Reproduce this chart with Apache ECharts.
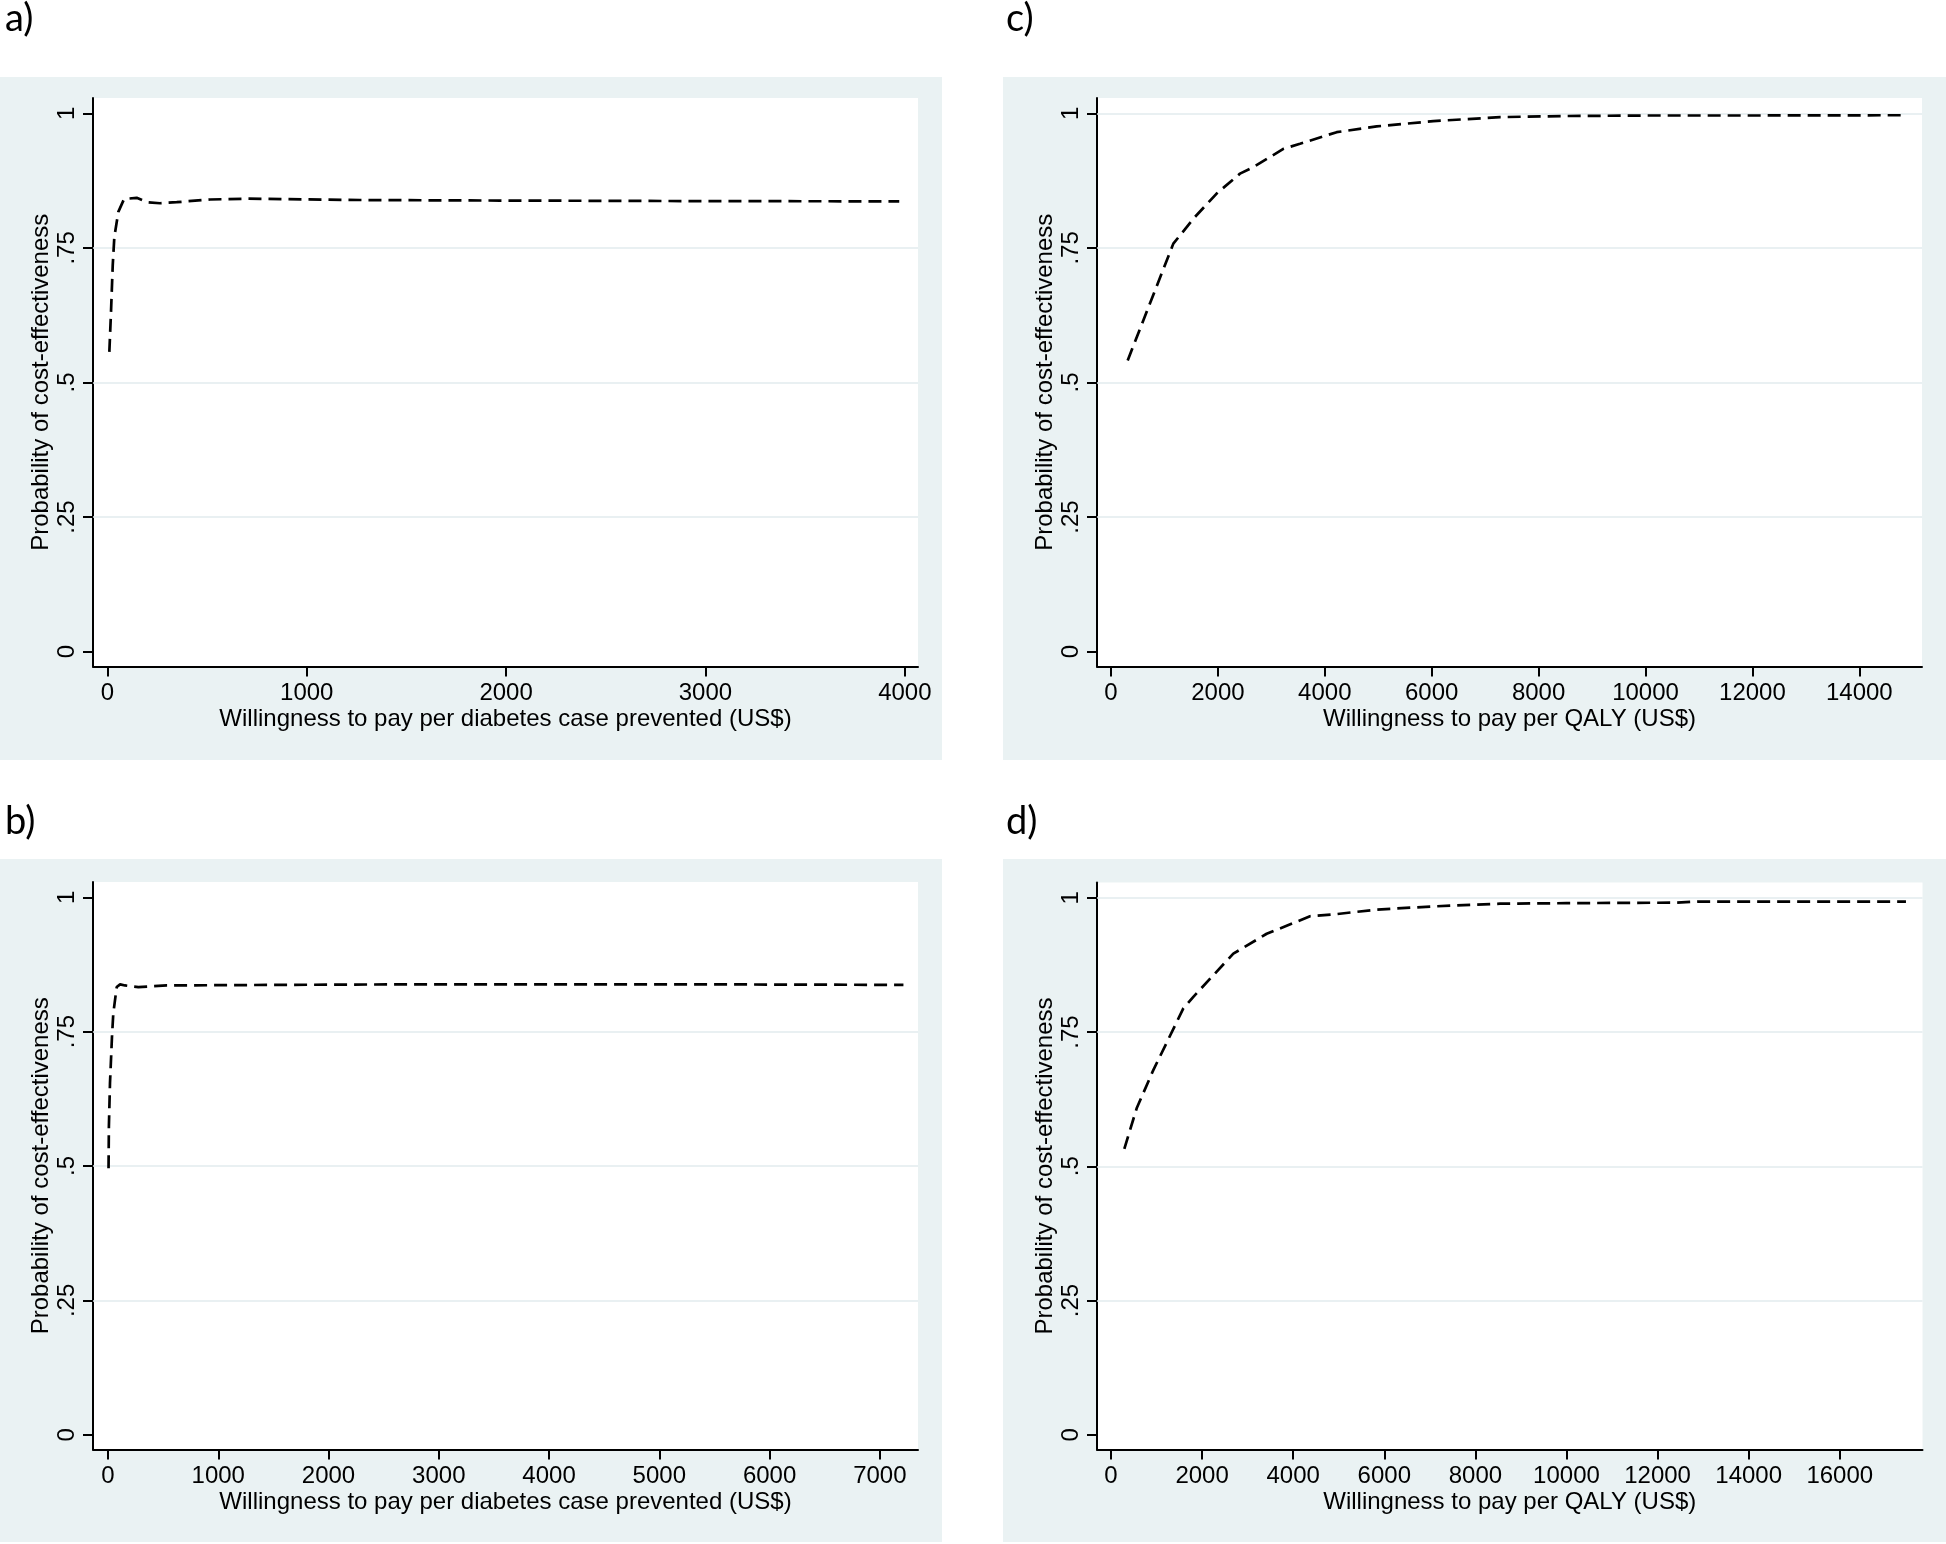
<!DOCTYPE html>
<html>
<head>
<meta charset="utf-8">
<script src="https://cdn.jsdelivr.net/npm/echarts@6/dist/echarts.min.js"></script>
<style>
html,body{margin:0;padding:0;background:#ffffff;}
#chart{width:1946px;height:1544px;}
</style>
</head>
<body>
<div id="chart"></div>
<script>
// ---- tick values / labels ----
const yTicks = [0, 0.25, 0.5, 0.75, 1];
const yTickLabels = ['0', '.25', '.5', '.75', '1'];
const aTicks = [0, 1000, 2000, 3000, 4000];
const bTicks = [0, 1000, 2000, 3000, 4000, 5000, 6000, 7000];
const cTicks = [0, 2000, 4000, 6000, 8000, 10000, 12000, 14000];
const dTicks = [0, 2000, 4000, 6000, 8000, 10000, 12000, 14000, 16000];
const gridAB = [0.25, 0.5, 0.75];
const gridCD = [0.25, 0.5, 0.75, 1];

// ---- texts ----
const panelLabels = ['a)', 'c)', 'b)', 'd)'];
const yTitle = 'Probability of cost-effectiveness';
const xTitleCase = 'Willingness to pay per diabetes case prevented (US$)';
const xTitleQaly = 'Willingness to pay per QALY (US$)';

// ---- series values ----
const aX = [10, 18, 27, 35, 55, 84, 147, 200, 264, 348, 515, 699, 1267, 1970, 3000, 3972];
const aY = [0.557, 0.628, 0.718, 0.770, 0.817, 0.841, 0.843, 0.835, 0.833, 0.835, 0.840, 0.8415, 0.839, 0.838, 0.837, 0.8365];

const bX = [5, 8, 18, 36, 48, 79, 110, 154, 275, 532, 1500, 2648, 4000, 5500, 7214];
const bY = [0.496, 0.573, 0.654, 0.740, 0.784, 0.833, 0.838, 0.836, 0.833, 0.836, 0.837, 0.838, 0.838, 0.838, 0.837];

const cX = [312, 1166, 1566, 1976, 2413, 2662, 3224, 3536, 4222, 4970, 6030, 7278, 8500, 10000, 12000, 14855];
const cY = [0.541, 0.758, 0.807, 0.851, 0.888, 0.900, 0.934, 0.9435, 0.965, 0.9757, 0.9855, 0.993, 0.995, 0.996, 0.996, 0.9965];

const dX = [293, 564, 929, 1588, 1808, 2686, 3418, 4369, 4881, 5832, 7077, 8540, 10000, 12400, 12900, 17453];
const dY = [0.5325, 0.608, 0.679, 0.794, 0.8156, 0.896, 0.933, 0.9656, 0.969, 0.978, 0.984, 0.989, 0.990, 0.991, 0.993, 0.993];

// ---- build ----
const FONT = "'Liberation Sans', Arial, Helvetica, sans-serif";
const FS = 24;
const BG = '#EAF2F3';
const GRIDLINE = '#E2EBEE';

const panels = [
  {xs: aX, ys: aY, ticks: aTicks, grid: gridAB, xmin: -72, xmax: 4066, name: xTitleCase,
   box: {left: 93, top: 98, width: 825, height: 568.5}, bg: {x: 0, y: 77, w: 942, h: 683}},
  {xs: cX, ys: cY, ticks: cTicks, grid: gridCD, xmin: -262, xmax: 15173, name: xTitleQaly,
   box: {left: 1097, top: 98, width: 825, height: 568.5}, bg: {x: 1003, y: 77, w: 943, h: 683}},
  {xs: bX, ys: bY, ticks: bTicks, grid: gridAB, xmin: -136, xmax: 7346, name: xTitleCase,
   box: {left: 93, top: 882, width: 825, height: 567.5}, bg: {x: 0, y: 859, w: 942, h: 683}},
  {xs: dX, ys: dY, ticks: dTicks, grid: gridCD, xmin: -307, xmax: 17816, name: xTitleQaly,
   box: {left: 1097, top: 882.5, width: 825.5, height: 567}, bg: {x: 1003, y: 859, w: 943, h: 683}}
];
const labelPos = [{left: 5, top: 0}, {left: 1006, top: 0}, {left: 5, top: 803}, {left: 1006, top: 803}];

const axisLineStyle = {color: '#000', width: 2};
const option = {
  animation: false,
  backgroundColor: '#ffffff',
  title: panelLabels.map((t, i) => ({
    text: t, left: labelPos[i].left, top: labelPos[i].top, padding: 0,
    textStyle: {fontFamily: "Lato, 'Open Sans', sans-serif", fontSize: 38, fontWeight: 'normal', color: '#000'}
  })),
  graphic: panels.map(p => ({
    type: 'rect', z: -100, silent: true,
    shape: {x: p.bg.x, y: p.bg.y, width: p.bg.w, height: p.bg.h},
    style: {fill: BG}
  })),
  grid: panels.map(p => ({
    left: p.box.left, top: p.box.top, width: p.box.width, height: p.box.height,
    show: true, backgroundColor: '#ffffff', borderWidth: 0, containLabel: false
  })),
  xAxis: panels.map((p, i) => ({
    type: 'value', gridIndex: i, min: p.xmin, max: p.xmax,
    name: p.name, nameLocation: 'middle', nameGap: 41,
    nameTextStyle: {fontFamily: FONT, fontSize: FS, color: '#000'},
    axisLine: {show: true, onZero: false, lineStyle: axisLineStyle},
    axisTick: {show: true, customValues: p.ticks, length: 10, lineStyle: axisLineStyle},
    axisLabel: {customValues: p.ticks, margin: 15, fontFamily: FONT, fontSize: FS, color: '#000',
      formatter: v => String(v)},
    splitLine: {show: false}
  })),
  yAxis: panels.map((p, i) => ({
    type: 'value', gridIndex: i, min: -0.0275, max: 1.0285,
    name: yTitle, nameLocation: 'middle', nameGap: 40, nameRotate: 90,
    nameTextStyle: {fontFamily: FONT, fontSize: FS, color: '#000'},
    axisLine: {show: true, onZero: false, lineStyle: axisLineStyle},
    axisTick: {show: true, customValues: yTicks, length: 10, lineStyle: axisLineStyle},
    axisLabel: {customValues: yTicks, rotate: 90, margin: 14, fontFamily: FONT, fontSize: FS, color: '#000',
      formatter: v => { const k = yTicks.indexOf(v); return k >= 0 ? yTickLabels[k] : String(v); }},
    splitLine: {show: false}
  })),
  series: panels.map((p, i) => ({
    type: 'line', xAxisIndex: i, yAxisIndex: i, z: 3,
    data: p.xs.map((x, k) => [x, p.ys[k]]),
    symbol: 'none', showSymbol: false, smooth: false,
    lineStyle: {color: '#000', width: 2.7, type: [13, 7]},
    markLine: {
      silent: true, symbol: 'none', z: 1, animation: false,
      label: {show: false},
      lineStyle: {color: GRIDLINE, type: 'solid', width: 1.6},
      emphasis: {disabled: true},
      data: p.grid.map(v => ({yAxis: v}))
    }
  }))
};

const chart = echarts.init(document.getElementById('chart'), null, {renderer: 'canvas'});
chart.setOption(option);
</script>
</body>
</html>
